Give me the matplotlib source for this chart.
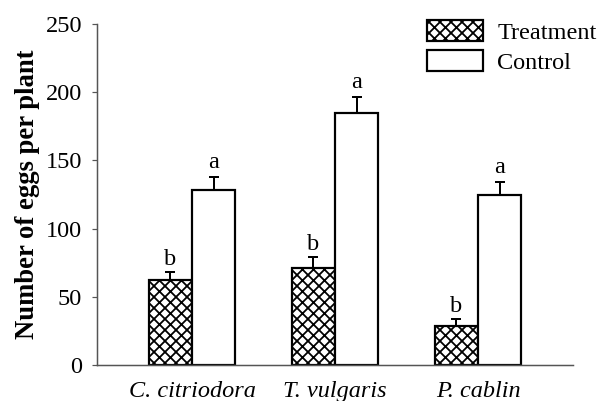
import matplotlib
matplotlib.use("Agg")
import matplotlib.pyplot as plt
import numpy as np

# data
species = ["C. citriodora", "T. vulgaris", "P. cablin"]
treatment = [62, 71, 28.5]
treatment_err = [6.5, 8, 5]
control = [128, 184.5, 124.5]
control_err = [10, 12, 10]
letters_treat = ["b", "b", "b"]
letters_ctrl = ["a", "a", "a"]
yticks = [0, 50, 100, 150, 200, 250]

DPI = 597 / 9.0
P = 72.0 / DPI  # pixels -> points

plt.rcParams["font.family"] = ["Liberation Serif", "DejaVu Serif"]
plt.rcParams["hatch.linewidth"] = 1.8 * P
plt.rcParams["hatch.color"] = "black"

fig = plt.figure(figsize=(597 / DPI, 401 / DPI), dpi=DPI)
ax = fig.add_axes([97 / 597, 36 / 401, (573 - 97) / 597, (365 - 24) / 401])

x = np.arange(len(species))
w = 0.303
fs = 24.3 * P

ax.bar(x - w / 2, treatment, w, facecolor="white", edgecolor="black",
       hatch="xx", linewidth=2.2 * P, zorder=2, label="Treatment")
ax.bar(x + w / 2, control, w, facecolor="white", edgecolor="black",
       linewidth=2.2 * P, zorder=2, label="Control")

ax.errorbar(x - w / 2, treatment, yerr=[np.zeros(3), treatment_err],
            fmt="none", ecolor="black", elinewidth=2 * P, capsize=5 * P,
            capthick=2 * P, zorder=3)
ax.errorbar(x + w / 2, control, yerr=[np.zeros(3), control_err],
            fmt="none", ecolor="black", elinewidth=2 * P, capsize=5 * P,
            capthick=2 * P, zorder=3)

for i in range(len(species)):
    ax.annotate(letters_treat[i], (x[i] - w / 2, treatment[i] + treatment_err[i]),
                xytext=(0, 7 * P), textcoords="offset points",
                ha="center", va="baseline", fontsize=fs)
    ax.annotate(letters_ctrl[i], (x[i] + w / 2, control[i] + control_err[i]),
                xytext=(0, 9 * P), textcoords="offset points",
                ha="center", va="baseline", fontsize=fs)

ax.set_xlim(-0.664, 2.664)
ax.set_ylim(0, 250)
ax.set_yticks(yticks)
ax.set_xticks(x)
ax.set_xticklabels(species, fontstyle="italic", fontsize=fs)
ax.tick_params(axis="x", length=0, pad=16 * P)
ax.tick_params(axis="y", length=5 * P, width=1.2 * P, pad=10 * P,
               labelsize=fs, color="#555555")
ax.set_ylabel("Number of eggs per plant", fontweight="bold", fontsize=26.7 * P)
ax.yaxis.set_label_coords(-0.12, 0.5)

for s in ["top", "right"]:
    ax.spines[s].set_visible(False)
for s in ["left", "bottom"]:
    ax.spines[s].set_color("#555555")
    ax.spines[s].set_linewidth(1.5 * P)

ax.legend(loc="upper left", bbox_to_anchor=(427 / 597, 1 - 20 / 401),
          bbox_transform=fig.transFigure, frameon=False, fontsize=fs,
          handlelength=56 / 24.3, handleheight=23 / 24.3, handletextpad=0.58,
          labelspacing=0.25, borderpad=0, borderaxespad=0)

fig.savefig("out.png", dpi=DPI)
